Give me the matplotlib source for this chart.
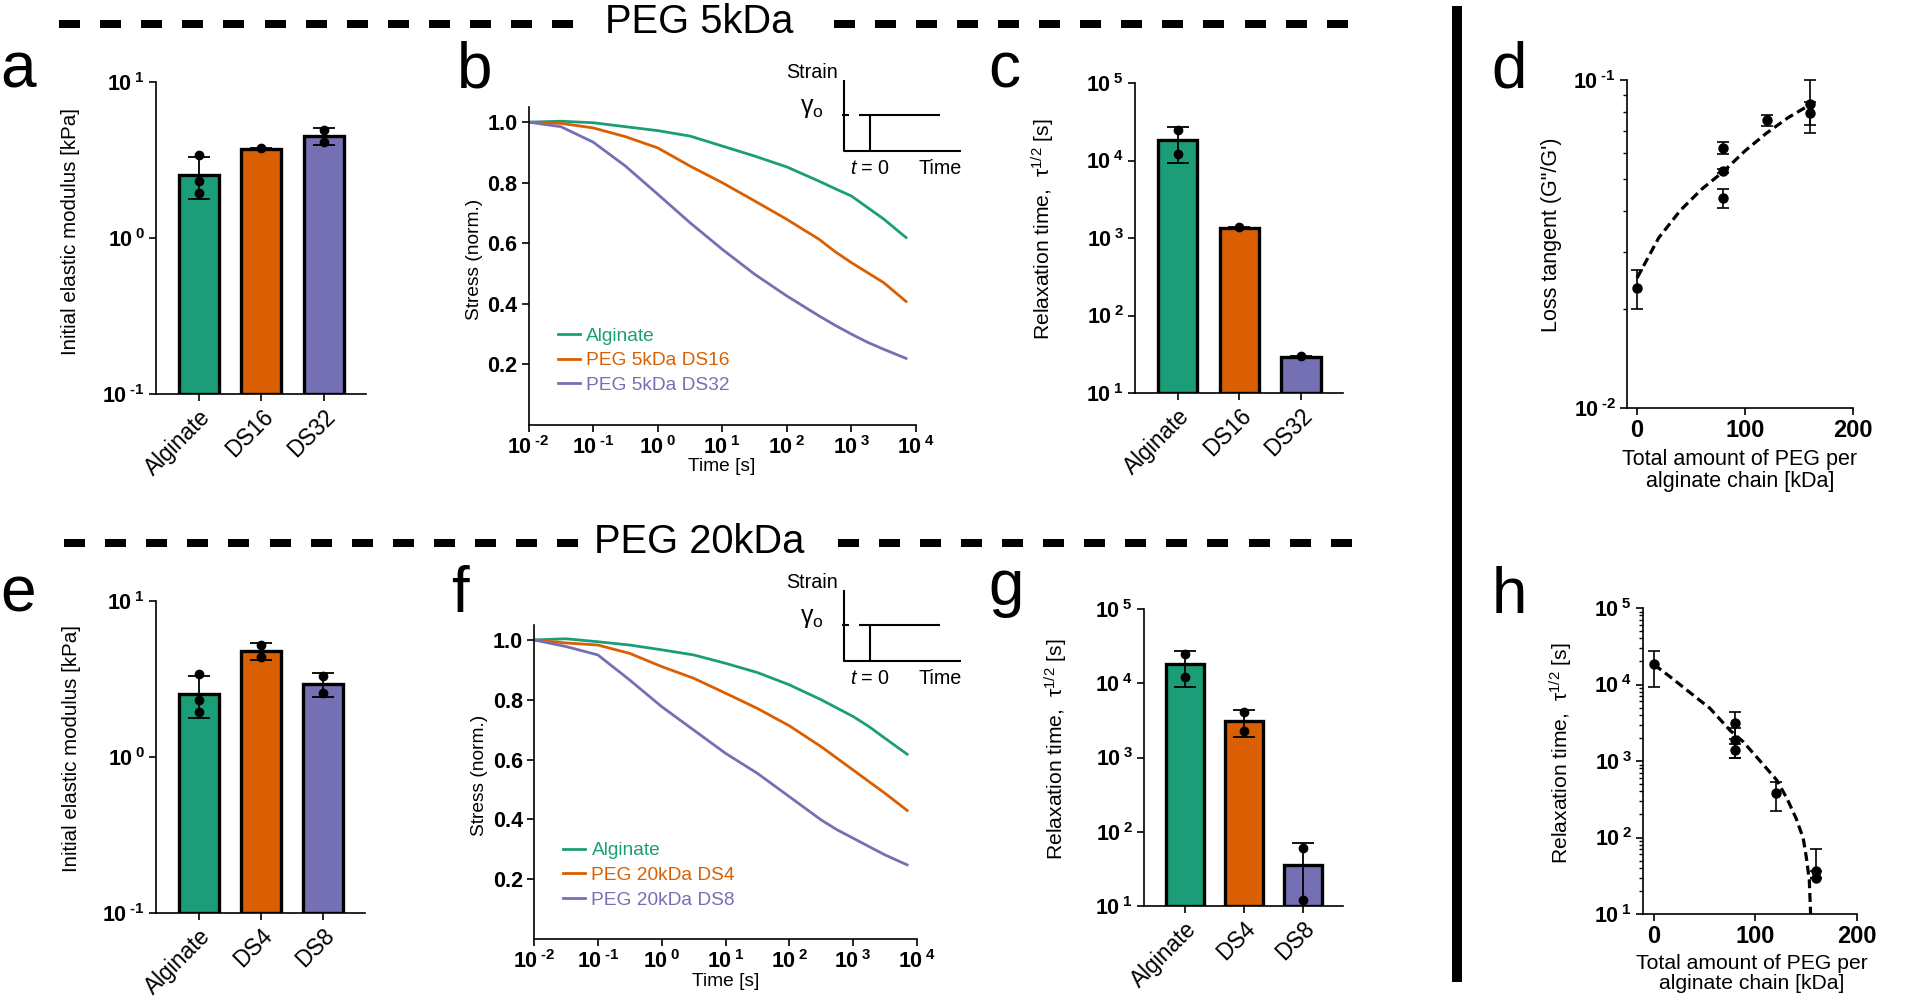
#!/usr/bin/env python3
"""
Stress relaxation of PEG-grafted alginate gels: moduli, relaxation curves,
relaxation times and loss tangent, for PEG 5kDa and PEG 20kDa.
"""

import numpy as np
import matplotlib
matplotlib.use('Agg')
import matplotlib.pyplot as plt
from matplotlib.ticker import NullLocator, NullFormatter, LogLocator
from matplotlib.patches import Rectangle

plt.rcParams['font.family'] = ['Liberation Sans', 'DejaVu Sans']
plt.rcParams['mathtext.fontset'] = 'custom'
plt.rcParams['mathtext.rm'] = 'Liberation Sans'
plt.rcParams['mathtext.it'] = 'Liberation Sans:italic'
plt.rcParams['mathtext.bf'] = 'Liberation Sans:bold'

# ---- data ----
groups_5k = ['Alginate', 'DS16', 'DS32']
groups_20k = ['Alginate', 'DS4', 'DS8']
colors = ['#1b9e77', '#d95f02', '#7570b3']

# initial elastic modulus [kPa]
mod_5k_mean = [2.55, 3.72, 4.52]
mod_5k_sd = [0.76, 0.04, 0.57]
mod_5k_pts = [[3.40, 2.32, 1.94], [3.75], [4.92, 4.12]]
mod_20k_mean = [2.55, 4.80, 2.94]
mod_20k_sd = [0.76, 0.59, 0.52]
mod_20k_pts = [[3.40, 2.32, 1.94], [5.22, 4.38], [3.30, 2.57]]

# relaxation time tau 1/2 [s]
tau_5k_mean = [18300, 1360, 29]
tau_5k_sd = [9100, 40, 1]
tau_5k_pts = [[25000, 12300], [1400], [30]]
tau_20k_mean = [18000, 3100, 36]
tau_20k_sd = [9100, 1200, 34]
tau_20k_pts = [[24600, 12000], [4040, 2310], [60, 12]]

# normalised stress relaxation curves
time_s = [0.01, 0.0316, 0.1, 0.316, 1, 3.16, 10, 31.6, 100, 316, 562, 1000, 1778, 3162, 7000]
stress_5k = [
    [1.0, 1.003, 0.998, 0.985, 0.972, 0.954, 0.921, 0.888, 0.852, 0.805, 0.780, 0.756, 0.718, 0.680, 0.619],
    [1.0, 0.996, 0.981, 0.952, 0.915, 0.855, 0.800, 0.740, 0.679, 0.613, 0.572, 0.536, 0.503, 0.470, 0.408],
    [1.0, 0.985, 0.934, 0.855, 0.762, 0.668, 0.580, 0.498, 0.426, 0.360, 0.329, 0.300, 0.273, 0.250, 0.220],
]
stress_20k = [
    [1.0, 1.004, 0.994, 0.983, 0.967, 0.950, 0.922, 0.891, 0.850, 0.800, 0.772, 0.744, 0.710, 0.671, 0.618],
    [1.0, 0.990, 0.983, 0.955, 0.911, 0.872, 0.822, 0.771, 0.713, 0.643, 0.604, 0.565, 0.526, 0.487, 0.430],
    [1.0, 0.978, 0.950, 0.866, 0.777, 0.699, 0.621, 0.554, 0.476, 0.398, 0.365, 0.337, 0.309, 0.281, 0.248],
]
legend_5k = ['Alginate', 'PEG 5kDa DS16', 'PEG 5kDa DS32']
legend_20k = ['Alginate', 'PEG 20kDa DS4', 'PEG 20kDa DS8']

# loss tangent vs total PEG per alginate chain
peg_d = [0, 80, 80, 80, 120, 160, 160]
tan_d = [0.0232, 0.0621, 0.0528, 0.0436, 0.0755, 0.0845, 0.0793]
tan_d_err = [0.0032, 0.0028, 0.0008, 0.0029, 0.0029, 0.0155, 0.0063]
fit_d_x = [0, 20, 40, 60, 80, 100, 120, 140, 160]
fit_d_y = [0.0249, 0.0330, 0.0400, 0.0465, 0.0526, 0.0608, 0.0689, 0.0768, 0.0840]

# relaxation time vs total PEG per alginate chain
peg_h = [0, 80, 80, 80, 120, 160, 160]
tau_h = [18400, 3160, 1880, 1390, 379, 36.7, 30]
tau_h_lo = [9100, 1200, 790, 290, 154, 0, 0]
tau_h_hi = [9100, 1200, 790, 290, 158, 34.3, 0]
fit_h_x = [0, 15, 35, 55, 75, 88, 104, 121, 131, 140, 147, 150, 153, 154.3]
fit_h_y = [18200, 12900, 7940, 4900, 2510, 1780, 1020, 562, 324, 178, 98, 56, 28, 10]

W, H = 1920, 1007
TICK_FS = 15.5
fig = plt.figure(figsize=(W / 100, H / 100), dpi=100)


def px_axes(left, top, right, bottom):
    """ axes from pixel box (y measured from the top) """
    ax = fig.add_axes([left / W, 1 - bottom / H, (right - left) / W, (bottom - top) / H])
    ax.patch.set_alpha(0)
    return ax


def pow10(v):
    exp = str(int(round(np.log10(v)))).replace('-', '\u2010')
    return r'$\mathbf{10}^{\;\mathbf{%s}}$' % exp


def style(ax):
    for s in ['top', 'right']:
        ax.spines[s].set_visible(False)
    for s in ['left', 'bottom']:
        ax.spines[s].set_linewidth(1.2)
    ax.tick_params(which='major', length=5, width=1.2, pad=3)
    ax.tick_params(which='minor', length=3, width=1.0)


def log_yticks(ax, lo, hi):
    ticks = [10.0 ** k for k in range(int(round(np.log10(lo))), int(round(np.log10(hi))) + 1)]
    ax.set_yticks(ticks, [pow10(v) for v in ticks], fontsize=TICK_FS)


def bar_panel(ax, names, mean, sd, pts, lo, hi, ylabel, label_fs, label_xy):
    ax.set_yscale('log')
    x = np.arange(len(names))
    ax.bar(x, np.array(mean) - lo, bottom=lo, width=0.64, color=colors,
           edgecolor='black', linewidth=2.4, zorder=2)
    ax.errorbar(x, mean, yerr=sd, fmt='none', ecolor='black', elinewidth=1.3,
                capsize=7.6, capthick=1.3, zorder=3)
    for i, p in enumerate(pts):
        ax.plot(np.full(len(p), i), p, 'o', color='black', ms=6, zorder=4)
    ax.set_xlim(-0.69, len(names) - 1 + 0.68)
    ax.set_ylim(lo, hi)
    log_yticks(ax, lo, hi)
    ax.yaxis.set_minor_locator(NullLocator())
    ax.set_xticks(x, names, rotation=45, ha='right', rotation_mode='anchor', fontsize=16.4)
    ax.set_ylabel(ylabel, fontsize=label_fs)
    ax.yaxis.set_label_coords(*label_xy)
    style(ax)


def relax_panel(ax, series, labels, ylab_xy, xlab_xy, leg_y):
    for y, c, lab in zip(series, colors, labels):
        ax.plot(time_s, y, color=c, lw=2.0, label=lab)
    ax.set_xscale('log')
    ax.set_xlim(0.01, 1e4)
    ax.set_ylim(0, 1.05)
    xt = [10.0 ** k for k in range(-2, 5)]
    ax.set_xticks(xt, [pow10(v) for v in xt], fontsize=TICK_FS)
    ax.xaxis.set_minor_locator(NullLocator())
    yt = [0.2, 0.4, 0.6, 0.8, 1.0]
    ax.set_yticks(yt, ['%.1f' % v for v in yt], fontweight='bold', fontsize=TICK_FS)
    ax.set_ylabel('Stress (norm.)', fontsize=13.8)
    ax.yaxis.set_label_coords(*ylab_xy)
    ax.set_xlabel('Time [s]', fontsize=13.8)
    ax.xaxis.set_label_coords(*xlab_xy)
    ax.legend(loc='lower left', bbox_to_anchor=(0.076, leg_y), frameon=False, fontsize=13.8,
              handlelength=1.15, handletextpad=0.33, labelspacing=0.38, borderpad=0,
              borderaxespad=0, labelcolor='linecolor')
    style(ax)


def fit_panel(ax, x, y, elo, ehi, fx, fy, lo, hi, xlo, ylabel, label_fs, ylab_xy, xlab_xy):
    ax.set_yscale('log')
    ax.plot(fx, fy, color='black', lw=2.3, ls=(0, (2.8, 1.5)), zorder=2)
    ax.errorbar(x, y, yerr=[elo, ehi], fmt='o', color='black', ms=6.5, elinewidth=1.2,
                capsize=4.5, capthick=1.2, zorder=3, clip_on=False)
    ax.set_xlim(xlo, 200)
    ax.set_ylim(lo, hi)
    log_yticks(ax, lo, hi)
    ax.yaxis.set_minor_locator(LogLocator(base=10, subs=np.arange(2, 10)))
    ax.yaxis.set_minor_formatter(NullFormatter())
    ax.set_xticks([0, 100, 200], ['0', '100', '200'], fontweight='bold', fontsize=17)
    ax.set_ylabel(ylabel, fontsize=label_fs)
    ax.yaxis.set_label_coords(*ylab_xy)
    ax.set_xlabel('Total amount of PEG per\nalginate chain [kDa]', fontsize=label_fs,
                  linespacing=1.05)
    ax.xaxis.set_label_coords(*xlab_xy)
    style(ax)


tau_label = 'Relaxation time,  τ$^{1/2}$ [s]'

ax_a = px_axes(156, 82, 366, 394)
bar_panel(ax_a, groups_5k, mod_5k_mean, mod_5k_sd, mod_5k_pts, 0.1, 10,
          'Initial elastic modulus [kPa]', 14.8, (-0.36, 0.52))
ax_e = px_axes(156, 601, 365, 913)
bar_panel(ax_e, groups_20k, mod_20k_mean, mod_20k_sd, mod_20k_pts, 0.1, 10,
          'Initial elastic modulus [kPa]', 14.8, (-0.36, 0.526))

ax_b = px_axes(528.6, 107, 916, 425)
relax_panel(ax_b, stress_5k, legend_5k, (-0.118, 0.522), (0.499, -0.104), 0.097)
ax_f = px_axes(534, 625, 917, 939)
relax_panel(ax_f, stress_20k, legend_20k, (-0.12, 0.522), (0.5, -0.108), 0.096)

ax_c = px_axes(1135, 83, 1343, 393)
bar_panel(ax_c, groups_5k, tau_5k_mean, tau_5k_sd, tau_5k_pts, 10, 1e5,
          tau_label, 15.2, (-0.375, 0.527))
ax_g = px_axes(1144, 609, 1343, 906)
bar_panel(ax_g, groups_20k, tau_20k_mean, tau_20k_sd, tau_20k_pts, 10, 1e5,
          tau_label, 15.2, (-0.372, 0.529))

ax_d = px_axes(1627, 80, 1853, 408)
fit_panel(ax_d, peg_d, tan_d, tan_d_err, tan_d_err, fit_d_x, fit_d_y, 0.01, 0.1, -9.3,
          'Loss tangent (G"/G\')', 15.5, (-0.288, 0.529), (0.5, -0.125))
ax_h = px_axes(1643, 608, 1857, 914)
fit_panel(ax_h, peg_h, tau_h, tau_h_lo, tau_h_hi, fit_h_x, fit_h_y, 10, 1e5, -10.8,
          tau_label, 15.2, (-0.318, 0.526), (0.509, -0.13))

# ---- overlay: headers, separators, panel letters, strain insets ----
ov = fig.add_axes([0, 0, 1, 1])
ov.set_xlim(0, W)
ov.set_ylim(H, 0)
ov.axis('off')
ov.patch.set_alpha(0)

DASH_ON, DASH_PITCH = 21.0, 41.1   # pixels
headers = [
    ('PEG 5kDa', 699, 33, 24, (59, 575), (833.5, 1348)),
    ('PEG 20kDa', 699, 553, 543, (64, 577.5), (837.5, 1352)),
]
for text, tx, ty, ly, left, right in headers:
    for x0, x1 in (left, right):
        n = int(round((x1 - x0 - DASH_ON) / DASH_PITCH))
        for k in range(n + 1):
            ov.add_patch(Rectangle((x0 + k * DASH_PITCH, ly - 3.6), DASH_ON, 7.3,
                                   facecolor='black', edgecolor='none'))
    ov.text(tx, ty, text, fontsize=28.7, ha='center', va='baseline')

ov.add_patch(Rectangle((1452, 6), 10, 976, facecolor='black', edgecolor='none'))

letters = [('a', 0, 88), ('b', 457, 88), ('c', 988, 88), ('d', 1491, 88),
           ('e', 0, 612), ('f', 451, 612), ('g', 988, 605), ('h', 1492, 613)]
for ch, lx, ly in letters:
    ov.text(lx, ly, ch, fontsize=46, ha='left', va='baseline')


def strain_inset(dy):
    """ step strain sketch drawn in pixel coordinates """
    kw = dict(color='black', lw=1.5, solid_capstyle='butt')
    ov.plot([843.6, 843.6, 961.4], [80 + dy, 151 + dy, 151 + dy], **kw)
    ov.plot([841.5, 849], [115 + dy, 115 + dy], **kw)
    ov.plot([858.6, 940], [115 + dy, 115 + dy], **kw)
    ov.plot([870.4, 870.4], [115 + dy, 151 + dy], **kw)
    ov.text(838, 73 + dy, 'Strain', fontsize=14.2, ha='right', va='center')
    ov.text(812, 108 + dy, 'γ$_{\\mathrm{o}}$', fontsize=18, ha='center', va='center')
    ov.text(870.4, 168 + dy, '$t$ = 0', fontsize=14.2, ha='center', va='center')
    ov.text(940, 168 + dy, 'Time', fontsize=14.2, ha='center', va='center')


strain_inset(0)
strain_inset(510)

fig.savefig('out.png', dpi=100)
plt.close(fig)
